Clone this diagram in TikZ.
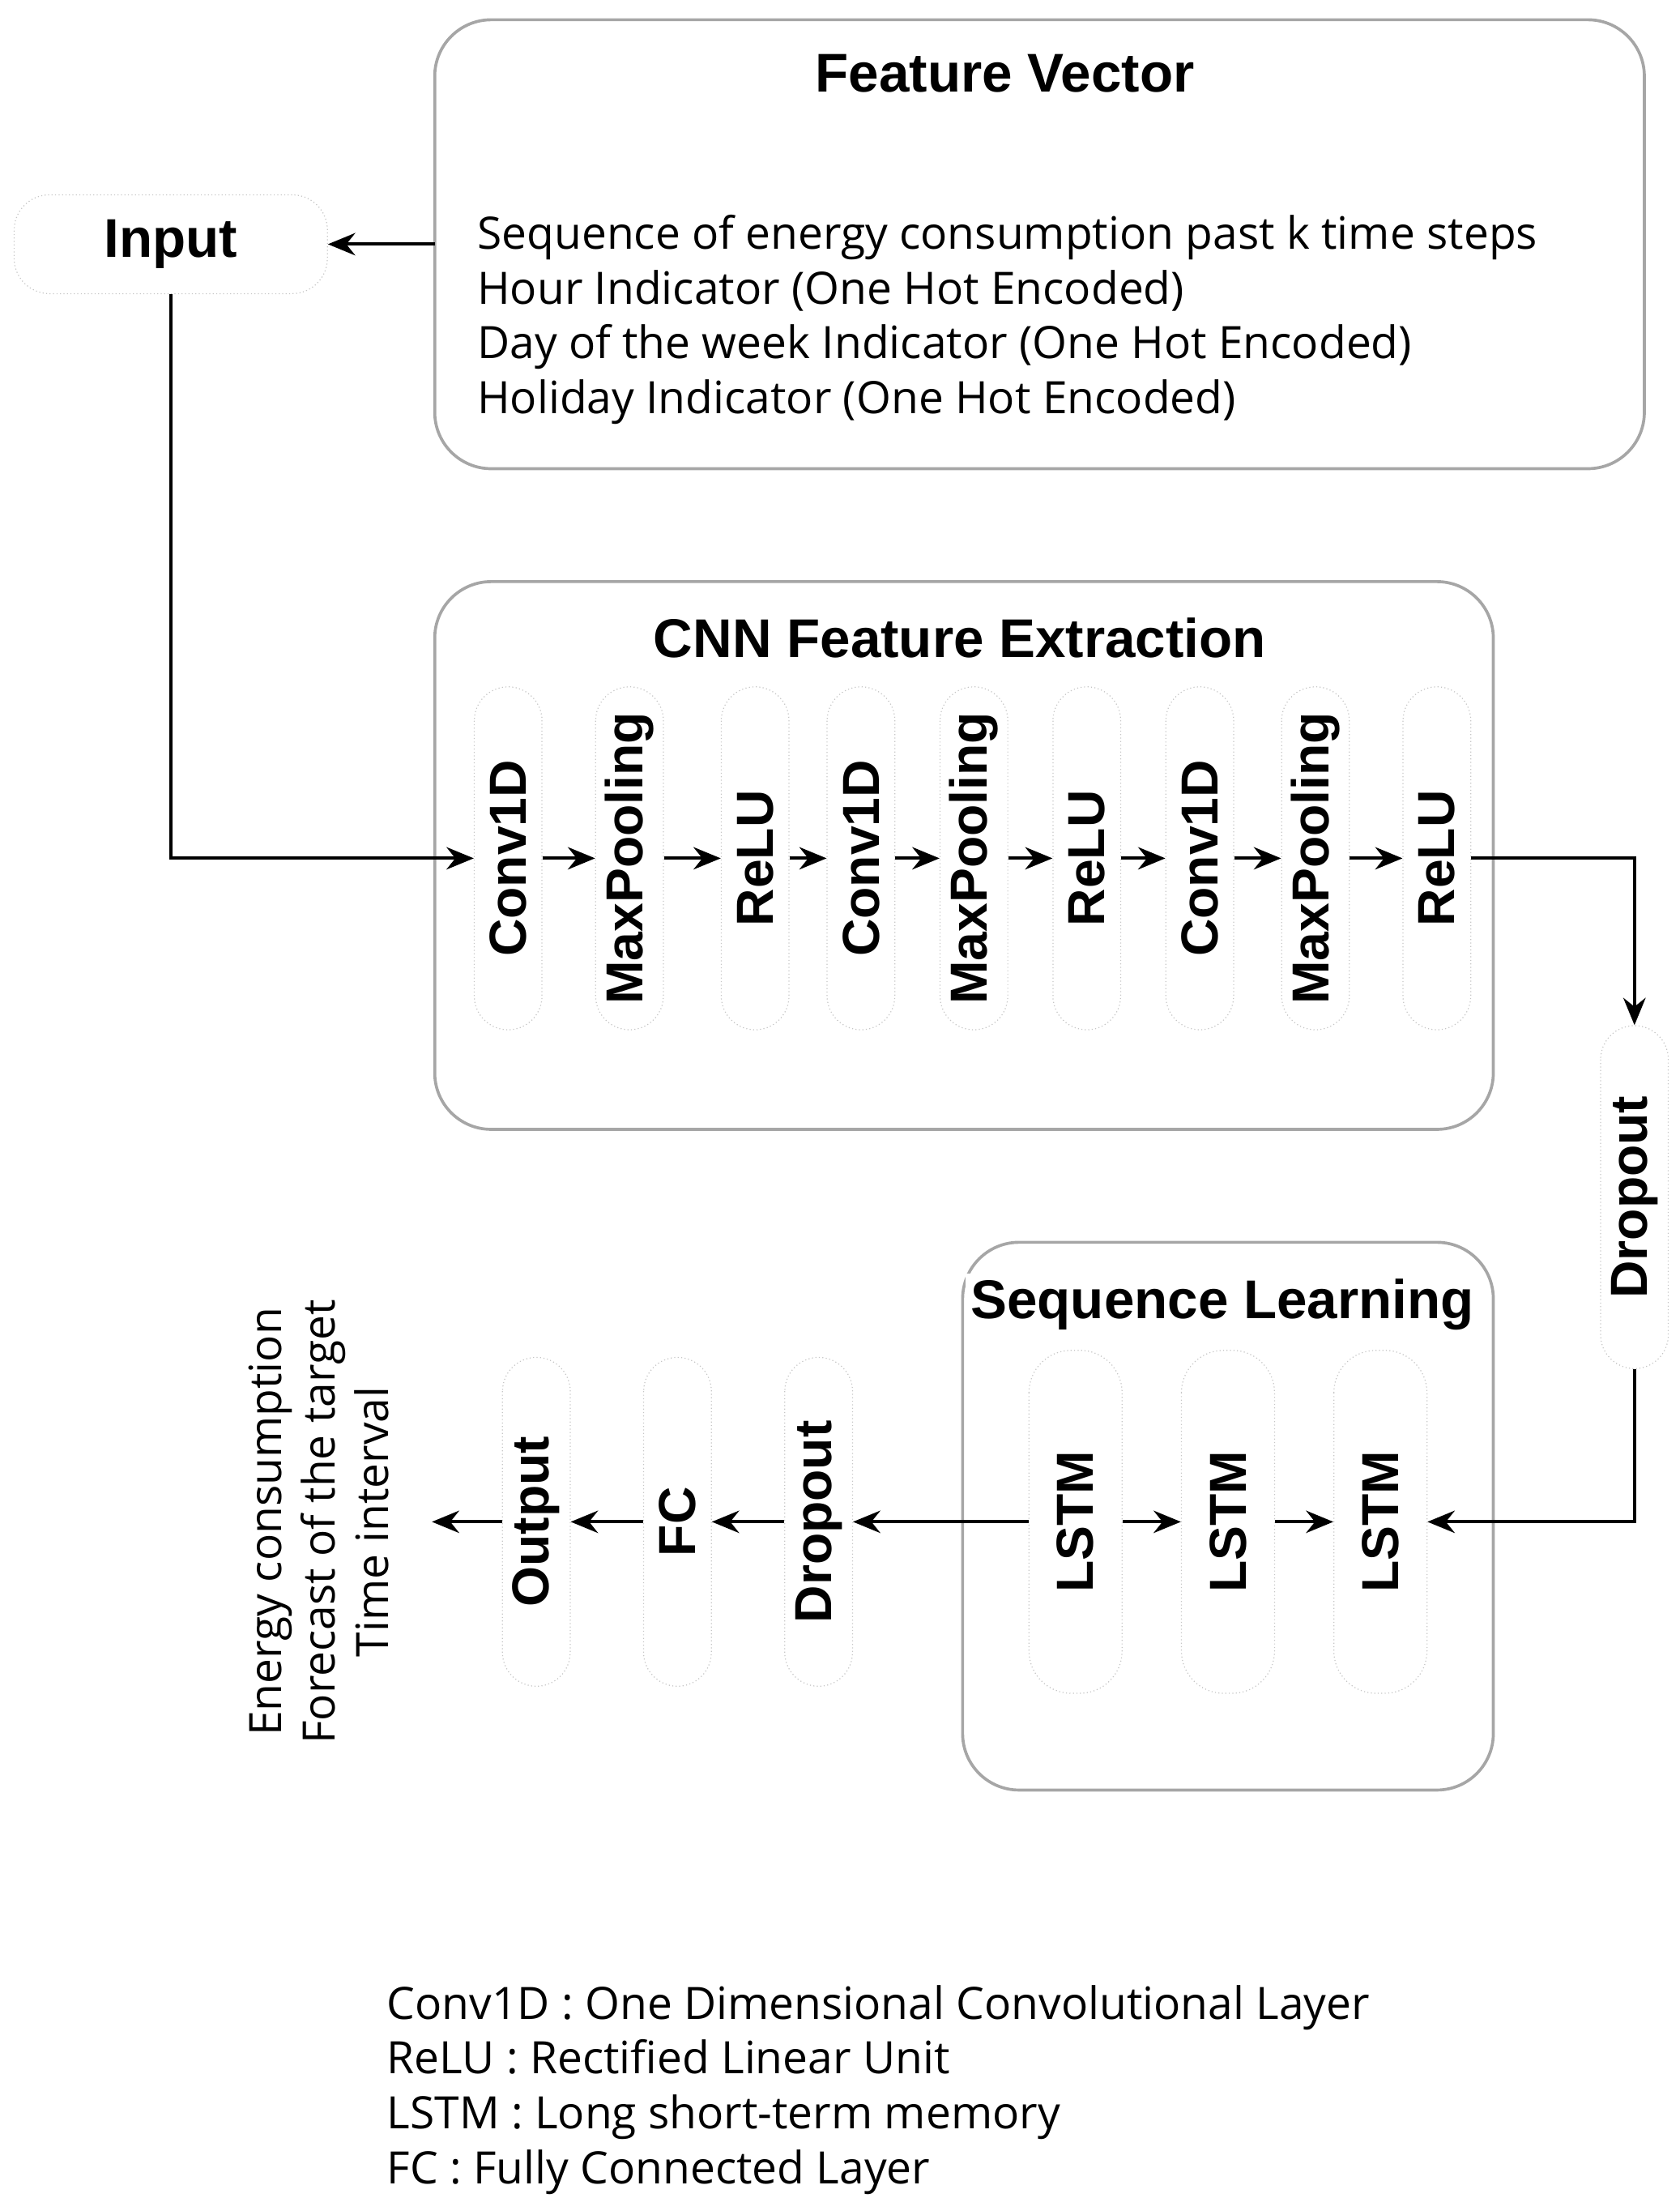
\documentclass[tikz,border=0pt]{standalone}
\usepackage{fontspec}
\setmainfont{Open Sans}
\newfontfamily\boldf{Liberation Sans}[BoldFont={Liberation Sans Bold}]
\usetikzlibrary{positioning,arrows.meta}
\begin{document}
\begin{tikzpicture}[>={Stealth[length=11pt,width=9pt]},x=0.02cm,y=-0.02cm,
    box/.style={draw, gray!70, rounded corners=0.8cm, line width=1.2pt},
    pill/.style={draw, gray!45, densely dotted, rounded corners=0.48cm, rotate=90,
      minimum width=4.86cm, minimum height=0.96cm, inner sep=0pt, text=black,
      font=\boldf\bfseries\fontsize{21}{24}\selectfont},
    lstm/.style={pill, minimum height=1.32cm, rounded corners=0.6cm},
    ttl/.style={font=\boldf\bfseries\fontsize{22}{26}\selectfont},
    txt/.style={font=\fontsize{18}{22.1}\selectfont, align=left, anchor=west},
    arr/.style={->, line width=1.3pt}]
\useasboundingbox (0,0) rectangle (1190,1557);

%the feature vector
    \draw[box] (308,14) rectangle (1165,332);
    \node[ttl] (fvt) at (712,52) {Feature Vector};
    \node[txt, anchor=north west] (fvl) at (332,146) {Sequence of energy consumption past k time steps\\Hour Indicator (One Hot Encoded)\\Day of the week Indicator (One Hot Encoded)\\Holiday Indicator (One Hot Encoded)};
    \node[draw, gray!45, densely dotted, rounded corners=0.5cm, minimum width=4.44cm,
      minimum height=1.4cm, ttl, text=black] (in) at (121,173) {Input};
    \coordinate (fv) at (308,173);
    \draw[arr] (fv) -- (in);

%the cnn block
    \draw[box] (308,412) rectangle (1058,800);
    \node[ttl] (cnnt) at (680,452) {CNN Feature Extraction};
    \foreach \n/\x [count=\i] in {Conv1D/360,MaxPooling/446,ReLU/535,Conv1D/610,MaxPooling/690,ReLU/770,Conv1D/850,MaxPooling/932,ReLU/1018}
      \node[pill] (p\i) at (\x,608) {\n};
    \foreach \i [evaluate=\i as \j using int(\i+1)] in {1,...,8}
      \draw[arr] (p\i) -- (p\j);
    \coordinate (k1) at (121,608);
    \draw[arr] (in) -- (k1) -- (p1);

%dropout
    \node[pill] (dr) at (1158,848) {Dropout};
    \coordinate (k2) at (1158,608);
    \draw[arr] (p9) -- (k2) -- (dr);

%the sequence block
    \draw[box] (682,880) rectangle (1058,1268);
    \node[ttl, fill=white, inner sep=2pt] (seqt) at (866,924) {Sequence Learning};
    \node[lstm] (l1) at (762,1078) {LSTM};
    \node[lstm] (l2) at (870,1078) {LSTM};
    \node[lstm] (l3) at (978,1078) {LSTM};
    \draw[arr] (l1) -- (l2);
    \draw[arr] (l2) -- (l3);
    \coordinate (k3) at (1158,1078);
    \draw[arr] (dr) -- (k3) -- (l3);
    \node[pill, minimum width=4.66cm] (d2) at (580,1078) {Dropout};
    \node[pill, minimum width=4.66cm] (fc) at (480,1078) {FC};
    \node[pill, minimum width=4.66cm] (out) at (380,1078) {Output};
    \draw[arr] (l1) -- (d2);
    \draw[arr] (d2) -- (fc);
    \draw[arr] (fc) -- (out);
    \coordinate (res) at (306,1078);
    \draw[arr] (out) -- (res);
    \node[rotate=90, align=center, font=\fontsize{18}{21.6}\selectfont] (rest) at (226,1078) {Energy consumption\\Forecast of the target\\Time interval};

%legend
    \node[txt, anchor=north west] (leg) at (268,1400) {Conv1D : One Dimensional Convolutional Layer\\ReLU : Rectified Linear Unit\\LSTM : Long short-term memory\\FC : Fully Connected Layer};
\end{tikzpicture}
\end{document}
